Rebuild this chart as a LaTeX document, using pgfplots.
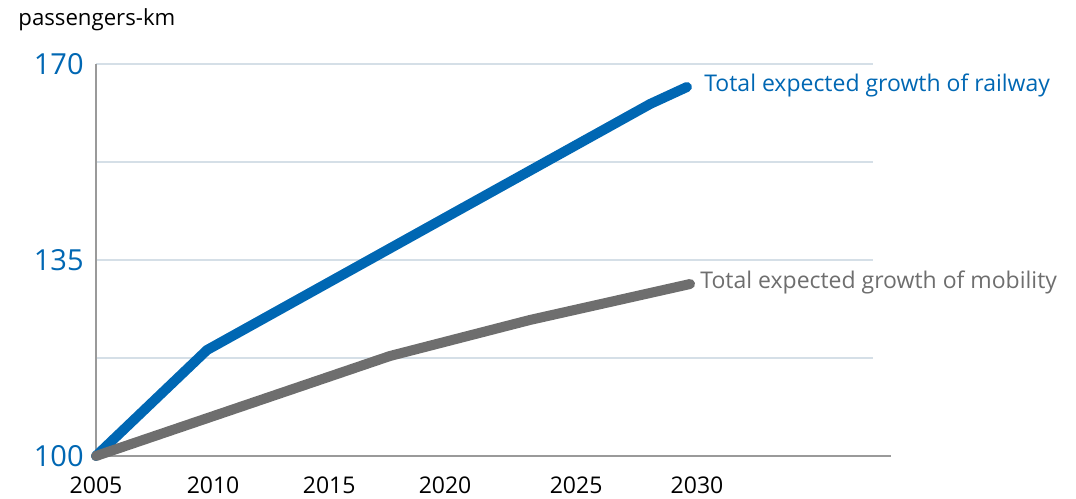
\documentclass[border=0pt]{standalone}
\usepackage{pgfplots}
\pgfplotsset{compat=1.18}
\usepackage{fontspec}
\setmainfont{Open Sans}
\definecolor{railblue}{HTML}{0067B3}
\definecolor{mobgray}{HTML}{6E6E6E}
\definecolor{gridc}{HTML}{D5DFE7}
\definecolor{axc}{HTML}{9A9A9A}
\begin{document}
\begin{tikzpicture}
\useasboundingbox (0,0) rectangle (538pt,249pt);
\node[anchor=base west, inner sep=0pt, font=\fontsize{11.1pt}{13pt}\selectfont] at (9pt,236pt) {passengers-km};
\begin{axis}[
  at={(48pt,21pt)}, anchor=south west,
  scale only axis, width=388.5pt, height=196pt,
  xmin=2005, xmax=2037.32, ymin=100, ymax=170,
  clip=false,
  separate axis lines,
  axis x line*=bottom, axis y line*=left,
  x axis line style={draw=axc, line width=0.8pt, -, shorten >=-9pt},
  y axis line style={draw=axc, line width=0.7pt, -},
  xtick={2005,2009.87,2014.70,2019.52,2024.97,2030.0},
  xticklabels={2005,2010,2015,2020,2025,2030},
  ytick={100,117.5,135,152.5,170},
  yticklabels={100,,135,,170},
  ymajorgrids, grid style={draw=gridc, line width=0.6pt},
  major tick length=0pt,
  /pgf/number format/assume math mode=true,
  xticklabel style={anchor=center, inner sep=0pt, yshift=-14.5pt, font=\fontsize{11.5pt}{13pt}\selectfont, text=black},
  yticklabel style={anchor=east, inner sep=0pt, xshift=-6pt, font=\fontsize{14.5pt}{16pt}\selectfont, text=railblue},
]
\addplot[railblue, line width=5pt, line cap=round, line join=round] coordinates {
  (2005,100) (2009.62,118.93) (2019.73,143.04) (2028.05,162.86) (2029.58,165.89)
};
\addplot[mobgray, line width=5pt, line cap=round, line join=round] coordinates {
  (2005,100) (2017.23,117.86) (2023.05,124.29) (2029.71,130.71)
};
\node[anchor=west, inner sep=0pt, text=railblue, font=\fontsize{11.5pt}{13pt}\selectfont] at (axis cs:2029.58,166.2) [xshift=8.5pt] {Total expected growth of railway};
\node[anchor=west, inner sep=0pt, text=mobgray, font=\fontsize{11.5pt}{13pt}\selectfont] at (axis cs:2029.71,130.9) [xshift=5pt] {Total expected growth of mobility};
\end{axis}
\end{tikzpicture}
\end{document}
